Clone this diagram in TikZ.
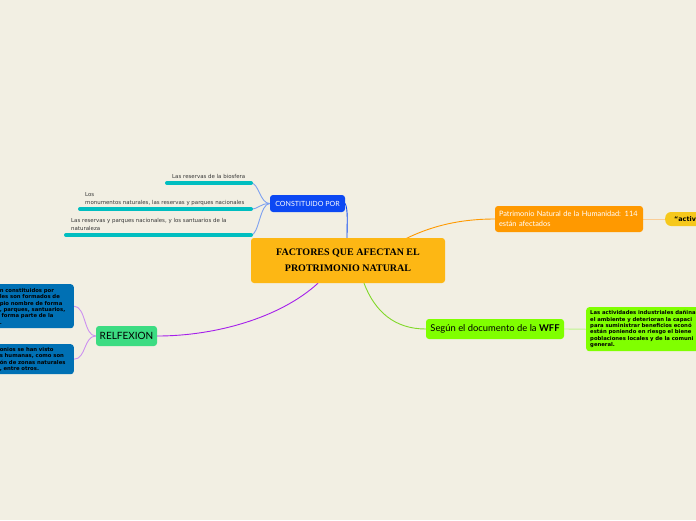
\documentclass[tikz,border=0pt]{standalone}
\usepackage{fontspec}
\setmainfont{Liberation Sans}
\newfontfamily\latof{Lato}
\newfontfamily\dejavuf{DejaVu Sans}
\newfontfamily\seriff{Liberation Serif}
\usetikzlibrary{positioning,backgrounds}

\definecolor{paper}{RGB}{242,239,227}
\definecolor{maincol}{RGB}{253,183,20}
\definecolor{constcol}{RGB}{12,72,243}
\definecolor{leafcol}{RGB}{0,190,192}
\definecolor{leafline}{RGB}{125,160,240}
\definecolor{patrcol}{RGB}{255,153,0}
\definecolor{activcol}{RGB}{246,200,28}
\definecolor{activline}{RGB}{250,205,150}
\definecolor{wffcol}{RGB}{128,255,0}
\definecolor{wffline}{RGB}{190,245,140}
\definecolor{relfcol}{RGB}{60,220,130}
\definecolor{relfline}{RGB}{165,30,235}
\definecolor{boxcol}{RGB}{0,112,180}
\definecolor{boxline}{RGB}{205,145,240}
\definecolor{leaftext}{RGB}{55,55,55}

\tikzset{
  topic/.style={rectangle, rounded corners=3pt, inner sep=0pt},
  leaftxt/.style={anchor=base west, inner sep=0pt, align=left, text=leaftext,
    font=\dejavuf\fontsize{5.45}{7.5}\selectfont},
  notebox/.style={topic, inner ysep=3pt, align=left,
    font=\dejavuf\bfseries\fontsize{5.3}{6.4}\selectfont},
  bar/.style={line width=4pt, line cap=round, leafcol},
  link/.style={line width=0.9pt}
}

\begin{document}
\begin{tikzpicture}[x=1pt,y=-1pt]
  \useasboundingbox (0,0) rectangle (696,520);
  \clip (0,0) rectangle (696,520);

  % main topic
  \node[topic, fill=maincol, minimum width=194pt, minimum height=45pt, align=center,
    font=\seriff\bfseries\fontsize{10}{16}\selectfont] (main) at (348,260.5)
    {FACTORES QUE AFECTAN EL\\PROTRIMONIO NATURAL};

  % subtopics
  \node[topic, fill=constcol, minimum width=75pt, minimum height=17pt, text=white,
    font=\latof\fontsize{7.1}{8}\selectfont] (const) at (307.5,203.5) {CONSTITUIDO POR};
  \node[topic, fill=patrcol, minimum width=148pt, minimum height=26pt, text=white,
    align=left, text width=140pt, font=\latof\fontsize{7.4}{9.5}\selectfont] (patr) at (569,219)
    {Patrimonio Natural de la Humanidad: 114\\están afectados};
  \node[topic, rounded corners=6pt, fill=activcol, anchor=west, minimum height=14pt,
    text width=40pt, inner xsep=9pt, align=left,
    font=\dejavuf\bfseries\fontsize{6.4}{8}\selectfont] (activ) at (665,219) {“activ};
  \node[topic, fill=wffcol, minimum width=138pt, minimum height=20pt,
    font=\latof\fontsize{9.4}{10}\selectfont] (wff) at (495,329)
    {Según el documento de la \textbf{WFF}};
  \node[notebox, fill=wffcol, anchor=north west, minimum height=44pt, text width=120pt,
    inner xsep=4pt] (wffbox) at (586,307)
    {Las actividades industriales dañina\\el ambiente y deterioran la capaci\\para suministrar beneficios econó\\están poniendo en riesgo el biene\\poblaciones locales y de la comuni\\general.};
  \node[topic, fill=relfcol, minimum width=61pt, minimum height=20pt,
    font=\latof\fontsize{10}{11}\selectfont] (relf) at (126.5,336) {RELFEXION};
  \node[notebox, fill=boxcol, anchor=north east, minimum height=44pt, text width=68pt,
    inner xsep=6pt] (refa) at (74,284)
    {\mbox{n constituidos por}\\\mbox{les son formados de}\\\mbox{pio nombre de forma}\\\mbox{, parques, santuarios,}\\\mbox{ forma parte de la}\\.};
  \node[notebox, fill=boxcol, anchor=north east, minimum height=30pt, text width=68pt,
    inner xsep=6pt] (refb) at (74,344)
    {\mbox{onios se han visto}\\\mbox{s humanas, como son}\\\mbox{ón de zonas naturales}\\\mbox{, entre otros.}};

  % leaves under CONSTITUIDO POR
  \coordinate (bioend) at (251,183);
  \coordinate (monend) at (251,209);
  \coordinate (sanend) at (251,235);
  \draw[bar] (167,183) -- (bioend);
  \draw[bar] (80,209) -- (monend);
  \draw[bar] (66,235) -- (sanend);
  \node[leaftxt] (bio) at (172,178) {Las reservas de la biosfera};
  \node[leaftxt] (mon) at (85,204.3) {Los\\monumentos naturales, las reservas y parques nacionales};
  \node[leaftxt] (san) at (71,230.3) {Las reservas y parques nacionales, y los santuarios de la\\naturaleza};

  % connectors, under the nodes
  \begin{scope}[on background layer]
  \fill[paper] (0,0) rectangle (696,520);
  \draw[link, leafline] (const.west) .. controls +(-10,0) and +(8,0) .. (bioend);
  \draw[link, leafline] (const.west) .. controls +(-10,0) and +(8,0) .. (monend);
  \draw[link, leafline] (const.west) .. controls +(-10,0) and +(8,0) .. (sanend);
  \draw[link, constcol] ([xshift=-1pt]main.north) .. controls +(0,-14) and +(3,6) .. (const.east);
  \draw[link, patrcol] ([xshift=37pt,yshift=10pt]main.center) .. controls (420,228) and (455,219) .. (patr.west);
  \draw[link, activline] (patr.east) -- (activ.west);
  \draw[link, wffcol!80!black!70!wffline] ([xshift=16pt]main.south) .. controls (375,312) and (395,329) .. (wff.west);
  \draw[link, wffline] (wff.east) -- (wffbox.west);
  \draw[link, relfline] ([xshift=-30pt]main.south) .. controls (280,318) and (215,336) .. (relf.east);
  \draw[link, boxline] (relf.west) .. controls +(-12,0) and +(12,0) .. (refa.east);
  \draw[link, boxline] (relf.west) .. controls +(-12,0) and +(12,0) .. (refb.east);
  \end{scope}
\end{tikzpicture}
\end{document}
